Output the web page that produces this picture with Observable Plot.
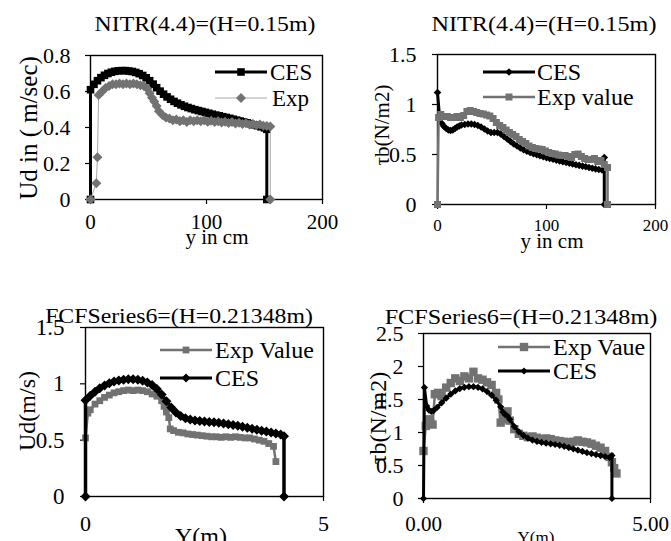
<!DOCTYPE html>
<html><head><meta charset="utf-8">
<script src="https://cdn.jsdelivr.net/npm/d3@7"></script>
<script src="https://cdn.jsdelivr.net/npm/@observablehq/plot@0.6"></script>
<style>
body{margin:0;background:#fff;}
#wrap{position:relative;width:671px;height:541px;overflow:hidden;background:#fff;font-family:"Liberation Serif","DejaVu Serif","Times New Roman",serif;color:#000;}
#wrap svg text{font-family:"Liberation Serif","DejaVu Serif","Times New Roman",serif;}
.t{position:absolute;white-space:nowrap;line-height:1;}
.lg{position:absolute;white-space:nowrap;line-height:1;transform:translateY(-50%);}
</style></head><body><div id="wrap"></div><script>
// ---------- data ----------
const p1Title = "NITR(4.4)=(H=0.15m)";
const p2Title = "NITR(4.4)=(H=0.15m)";
const p3Title = "FCFSeries6=(H=0.21348m)";
const p4Title = "FCFSeries6=(H=0.21348m)";

const p1XTicks = [0, 100, 200];
const p1YTicks = [0, 0.2, 0.4, 0.6, 0.8];
const p2XTicks = [0, 100, 200];
const p2YTicks = [0, 0.5, 1, 1.5];
const p3XTicks = [0, 5];
const p3YTicks = [0, 0.5, 1, 1.5];
const p4XTicks = [0, 5];
const p4YTicks = [0, 0.5, 1, 1.5, 2, 2.5];

// Panel 1: Ud (m/sec) vs y (cm)
const p1CES = [[0,0],[0,0.61],[3,0.64],[6,0.66],[9,0.677],[12,0.69],[15,0.7],[18,0.707],[21,0.712],[24,0.715],[27,0.716],[30,0.716],[33,0.714],[36,0.711],[39,0.706],[42,0.699],[45,0.689],[48,0.676],[51,0.66],[54,0.641],[57,0.621],[60,0.602],[63,0.585],[66,0.57],[69,0.557],[72,0.545],[75,0.535],[78,0.526],[81,0.518],[84,0.511],[87,0.505],[90,0.499],[93,0.494],[96,0.489],[99,0.484],[102,0.479],[105,0.474],[108,0.469],[111,0.465],[114,0.46],[117,0.456],[120,0.451],[123,0.446],[126,0.441],[129,0.436],[132,0.431],[135,0.426],[138,0.421],[141,0.415],[144,0.41],[147,0.404],[150,0.398],[152,0.39],[152,0]];
const p1Exp = [[0,0],[5,0.09],[6,0.235],[7,0.58],[10,0.6],[13,0.62],[16,0.63],[19,0.64],[22,0.64],[25,0.645],[28,0.64],[31,0.645],[34,0.64],[37,0.645],[40,0.64],[43,0.635],[46,0.63],[49,0.615],[51,0.59],[53,0.565],[55,0.545],[57,0.52],[59,0.49],[62,0.47],[65,0.455],[68,0.45],[71,0.44],[74,0.445],[77,0.435],[80,0.44],[83,0.43],[86,0.44],[89,0.435],[92,0.44],[95,0.435],[98,0.44],[101,0.432],[104,0.438],[107,0.43],[110,0.435],[113,0.428],[116,0.432],[119,0.425],[122,0.43],[125,0.422],[128,0.426],[131,0.42],[134,0.424],[137,0.416],[140,0.42],[143,0.413],[146,0.416],[149,0.41],[152,0.408],[155,0.405],[155,0]];

// Panel 2: tau_b (N/m2) vs y (cm)
const p2CES = [[0,1.12],[2,0.86],[4,0.81],[6,0.78],[8,0.76],[10,0.745],[12,0.74],[14,0.745],[16,0.76],[18,0.775],[20,0.785],[22,0.795],[25,0.8],[28,0.805],[31,0.805],[34,0.8],[37,0.79],[40,0.775],[43,0.755],[46,0.735],[49,0.72],[52,0.72],[55,0.72],[58,0.705],[61,0.68],[64,0.655],[67,0.63],[70,0.605],[73,0.585],[76,0.565],[79,0.548],[82,0.533],[85,0.52],[88,0.508],[91,0.497],[94,0.487],[97,0.477],[100,0.468],[103,0.46],[106,0.452],[109,0.444],[112,0.436],[115,0.428],[118,0.42],[121,0.412],[124,0.405],[127,0.398],[130,0.391],[133,0.384],[136,0.377],[139,0.37],[142,0.363],[145,0.356],[148,0.35],[151,0.345],[153,0.47],[153,0]];
const p2Exp = [[0,0],[1,0.87],[3,0.9],[6,0.88],[9,0.88],[12,0.87],[15,0.87],[18,0.88],[21,0.87],[24,0.89],[27,0.93],[30,0.94],[33,0.93],[36,0.92],[39,0.91],[42,0.905],[45,0.895],[48,0.885],[51,0.86],[54,0.82],[57,0.79],[60,0.77],[63,0.745],[66,0.72],[69,0.7],[72,0.68],[75,0.65],[78,0.63],[81,0.61],[84,0.585],[87,0.57],[90,0.56],[93,0.555],[96,0.55],[99,0.535],[102,0.52],[105,0.51],[108,0.505],[111,0.495],[114,0.49],[117,0.49],[120,0.48],[123,0.47],[126,0.5],[129,0.505],[132,0.48],[135,0.46],[138,0.45],[141,0.45],[144,0.46],[147,0.43],[150,0.44],[153,0.4],[156,0.37],[156,0]];

// Panel 3: Ud (m/s) vs Y (m)
const p3Exp = [[0,0.52],[0.05,0.74],[0.1,0.77],[0.2,0.82],[0.3,0.85],[0.4,0.88],[0.5,0.9],[0.6,0.92],[0.7,0.93],[0.8,0.94],[0.9,0.945],[1.0,0.94],[1.1,0.945],[1.2,0.94],[1.3,0.93],[1.4,0.91],[1.5,0.89],[1.6,0.85],[1.65,0.8],[1.7,0.75],[1.75,0.7],[1.78,0.6],[1.85,0.585],[1.95,0.57],[2.05,0.565],[2.15,0.555],[2.25,0.55],[2.35,0.545],[2.45,0.54],[2.55,0.535],[2.65,0.53],[2.75,0.53],[2.85,0.525],[2.95,0.53],[3.05,0.525],[3.15,0.53],[3.25,0.525],[3.35,0.52],[3.45,0.52],[3.55,0.51],[3.65,0.5],[3.75,0.49],[3.85,0.47],[3.95,0.445],[4.0,0.31]];
const p3CES = [[0,0],[0,0.855],[0.1,0.895],[0.2,0.93],[0.3,0.96],[0.4,0.985],[0.5,1.005],[0.6,1.02],[0.7,1.03],[0.8,1.037],[0.9,1.04],[1.0,1.04],[1.1,1.036],[1.2,1.028],[1.3,1.012],[1.4,0.99],[1.5,0.955],[1.6,0.905],[1.7,0.845],[1.8,0.79],[1.9,0.745],[2.0,0.715],[2.1,0.695],[2.2,0.683],[2.3,0.675],[2.4,0.67],[2.5,0.666],[2.6,0.662],[2.7,0.658],[2.8,0.654],[2.9,0.648],[3.0,0.642],[3.1,0.635],[3.2,0.627],[3.3,0.619],[3.4,0.61],[3.5,0.601],[3.6,0.592],[3.7,0.584],[3.8,0.576],[3.9,0.568],[4.0,0.56],[4.1,0.55],[4.17,0.535],[4.17,0]];

// Panel 4: tau_b (N/m2) vs Y (m)
const p4Exp = [[0,0.72],[0.05,1.1],[0.1,1.2],[0.15,1.15],[0.2,1.12],[0.25,1.58],[0.32,1.6],[0.4,1.55],[0.5,1.68],[0.6,1.75],[0.7,1.82],[0.8,1.78],[0.9,1.85],[1.0,1.82],[1.1,1.92],[1.2,1.82],[1.3,1.8],[1.4,1.76],[1.5,1.72],[1.6,1.6],[1.65,1.5],[1.7,1.15],[1.75,1.2],[1.8,1.28],[1.85,1.32],[1.9,1.18],[2.0,1.05],[2.1,0.98],[2.2,0.95],[2.3,0.93],[2.4,0.94],[2.5,0.92],[2.6,0.9],[2.7,0.91],[2.8,0.9],[2.9,0.88],[3.0,0.87],[3.1,0.86],[3.2,0.85],[3.3,0.86],[3.4,0.88],[3.5,0.86],[3.6,0.85],[3.7,0.83],[3.8,0.8],[3.9,0.77],[4.0,0.72],[4.1,0.63],[4.15,0.55],[4.2,0.46],[4.25,0.38]];
const p4CES = [[0,0],[0.02,1.68],[0.07,1.4],[0.12,1.34],[0.17,1.32],[0.22,1.33],[0.3,1.38],[0.4,1.45],[0.5,1.52],[0.6,1.58],[0.7,1.63],[0.8,1.665],[0.9,1.685],[1.0,1.695],[1.1,1.695],[1.2,1.685],[1.3,1.66],[1.4,1.62],[1.5,1.565],[1.6,1.49],[1.7,1.39],[1.75,1.31],[1.8,1.27],[1.85,1.25],[1.9,1.2],[2.0,1.09],[2.1,1.01],[2.2,0.955],[2.3,0.915],[2.4,0.885],[2.5,0.865],[2.6,0.85],[2.7,0.838],[2.8,0.828],[2.9,0.818],[3.0,0.806],[3.1,0.79],[3.2,0.772],[3.3,0.752],[3.4,0.732],[3.5,0.713],[3.6,0.695],[3.7,0.68],[3.8,0.665],[3.9,0.65],[4.0,0.635],[4.1,0.62],[4.15,0.65],[4.15,0]];

// ---------- rendering ----------
const SERIF = '"Liberation Serif", "DejaVu Serif", "Times New Roman", serif';
const wrap = document.getElementById("wrap");
const GREY = "#727272";
const sqSym = {draw(ctx, size){ const r = Math.sqrt(size/Math.PI); ctx.moveTo(-r,-r); ctx.lineTo(r,-r); ctx.lineTo(r,r); ctx.lineTo(-r,r); ctx.closePath(); }};
const diSym = {draw(ctx, size){ const r = Math.sqrt(size/Math.PI); ctx.moveTo(0,-r); ctx.lineTo(r,0); ctx.lineTo(0,r); ctx.lineTo(-r,0); ctx.closePath(); }};

function series(data, o) {
  return [
    Plot.line(data, {x: d => d[0], y: d => d[1], stroke: o.stroke, strokeWidth: o.sw}),
    Plot.dot(data, {x: d => d[0], y: d => d[1], symbol: o.sym, r: o.r, fill: o.fill, stroke: "none"})
  ];
}

function panel(c) {
  const svg = Plot.plot({
    width: c.w, height: c.h,
    marginLeft: c.ml, marginRight: c.mr, marginTop: c.mt, marginBottom: c.mb,
    x: {domain: c.xd}, y: {domain: c.yd},
    style: {background: "transparent", fontFamily: SERIF, color: "#000", overflow: "visible"},
    marks: [
      Plot.axisX({ticks: c.xt, tickSize: 5, tickPadding: c.xpad, fontSize: c.xfs, fontFamily: SERIF, tickFormat: c.xf || (d => String(d)), label: null, strokeWidth: 1.2}),
      Plot.axisY({ticks: c.yt, tickSize: 5, tickPadding: c.ypad, fontSize: c.yfs, fontFamily: SERIF, tickFormat: d => String(d), label: null, strokeWidth: 1.2}),
      Plot.frame({stroke: "#000", strokeWidth: 1.4}),
      ...c.marks
    ]
  });
  svg.style.position = "absolute";
  svg.style.left = c.left + "px";
  svg.style.top = c.top + "px";
  wrap.appendChild(svg);
}

panel({left: 0, top: 0, w: 335, h: 270, ml: 90, mr: 13, mt: 55, mb: 71,
  xd: [0, 200], yd: [0, 0.8], xt: p1XTicks, yt: p1YTicks, xpad: 10, ypad: 15, xfs: 21, yfs: 22,
  marks: [
    ...series(p1CES, {stroke: "#000", sw: 3, sym: sqSym, r: 3.8, fill: "#000"}),
    ...series(p1Exp, {stroke: "#a8a8a8", sw: 1, sym: diSym, r: 5, fill: GREY})
  ]});
panel({left: 335, top: 0, w: 336, h: 270, ml: 102, mr: 16, mt: 54, mb: 66,
  xd: [0, 200], yd: [0, 1.5], xt: p2XTicks, yt: p2YTicks, xpad: 9, ypad: 16, xfs: 17, yfs: 22,
  marks: [
    ...series(p2CES, {stroke: "#000", sw: 3, sym: diSym, r: 3.8, fill: "#000"}),
    ...series(p2Exp, {stroke: GREY, sw: 2.5, sym: sqSym, r: 3.5, fill: GREY})
  ]});
panel({left: 0, top: 270, w: 335, h: 271, ml: 85, mr: 12, mt: 57, mb: 45,
  xd: [0, 5], yd: [0, 1.5], xt: p3XTicks, yt: p3YTicks, xpad: 14, ypad: 16, xfs: 22, yfs: 23,
  marks: [
    ...series(p3Exp, {stroke: GREY, sw: 2.5, sym: sqSym, r: 3.4, fill: GREY}),
    ...series(p3CES, {stroke: "#000", sw: 3.5, sym: diSym, r: 5, fill: "#000"})
  ]});
panel({left: 335, top: 270, w: 336, h: 271, ml: 88, mr: 21, mt: 63, mb: 43,
  xd: [0, 5], yd: [0, 2.5], xt: p4XTicks, yt: p4YTicks, xpad: 13, ypad: 15, xfs: 21, yfs: 22,
  xf: d => d.toFixed(2),
  marks: [
    ...series(p4Exp, {stroke: GREY, sw: 2.5, sym: sqSym, r: 4.2, fill: GREY}),
    ...series(p4CES, {stroke: "#000", sw: 3, sym: diSym, r: 3.6, fill: "#000"})
  ]});

// ---------- titles and axis labels ----------
function txt(s, x, y, size, opts = {}) {
  const d = document.createElement("div");
  d.className = "t";
  d.textContent = s;
  d.style.left = x + "px";
  d.style.top = y + "px";
  d.style.fontSize = size + "px";
  d.style.fontFamily = SERIF;
  let tf = "translate(-50%,-50%)";
  if (opts.rot) tf += " rotate(-90deg)";
  if (opts.sx) tf += ` scaleX(${opts.sx})`;
  d.style.transform = tf;
  wrap.appendChild(d);
}
txt(p1Title, 205, 24, 22, {sx: 1.08});
txt(p2Title, 544, 24, 22, {sx: 1.1});
txt(p3Title, 179, 316, 22, {sx: 1.08});
txt(p4Title, 521, 317, 22, {sx: 1.1});
txt("Ud in ( m/sec)", 28, 128, 25, {rot: true});
txt("y in cm", 217, 237, 21);
txt("\u03C4b(N/m2)", 382, 125, 21, {rot: true});
txt("y in cm", 552, 241, 21);
txt("Ud(m/s)", 27, 411, 24, {rot: true});
txt("Y(m)", 201, 536, 24);
txt("\u03C4b(N/m2)", 378, 418, 24, {rot: true});
txt("Y(m)", 536, 537, 17);

// ---------- legends ----------
const ov = d3.select(wrap).append("svg").attr("width", 671).attr("height", 541)
  .style("position", "absolute").style("left", "0px").style("top", "0px").style("pointer-events", "none");
function legend(x1, x2, y, stroke, sw, sym, r, fill, label, size, tx) {
  ov.append("line").attr("x1", x1).attr("x2", x2).attr("y1", y).attr("y2", y).attr("stroke", stroke).attr("stroke-width", sw);
  const p = d3.path();
  sym.draw(p, r * r * Math.PI);
  ov.append("path").attr("d", p.toString()).attr("transform", `translate(${(x1 + x2) / 2},${y})`).attr("fill", fill);
  const d = document.createElement("div");
  d.className = "lg";
  d.textContent = label;
  d.style.left = tx + "px";
  d.style.top = y + "px";
  d.style.fontSize = size + "px";
  d.style.fontFamily = SERIF;
  wrap.appendChild(d);
}
legend(215, 267, 72, "#000", 3, sqSym, 3.8, "#000", "CES", 23, 270);
legend(215, 267, 98, "#a8a8a8", 1, diSym, 5, GREY, "Exp", 23, 272);
legend(483, 535, 72, "#000", 3, diSym, 3.8, "#000", "CES", 24, 537);
legend(483, 535, 97, GREY, 2.5, sqSym, 3.5, GREY, "Exp value", 24, 537);
legend(160, 212, 350, GREY, 2.5, sqSym, 3.4, GREY, "Exp Value", 24, 215);
legend(160, 212, 378, "#000", 3, diSym, 4.5, "#000", "CES", 24, 215);
legend(498, 550, 347, GREY, 2.5, sqSym, 4.2, GREY, "Exp Vaue", 24, 553);
legend(498, 550, 371, "#000", 3, diSym, 3.6, "#000", "CES", 24, 553);
</script></body></html>
